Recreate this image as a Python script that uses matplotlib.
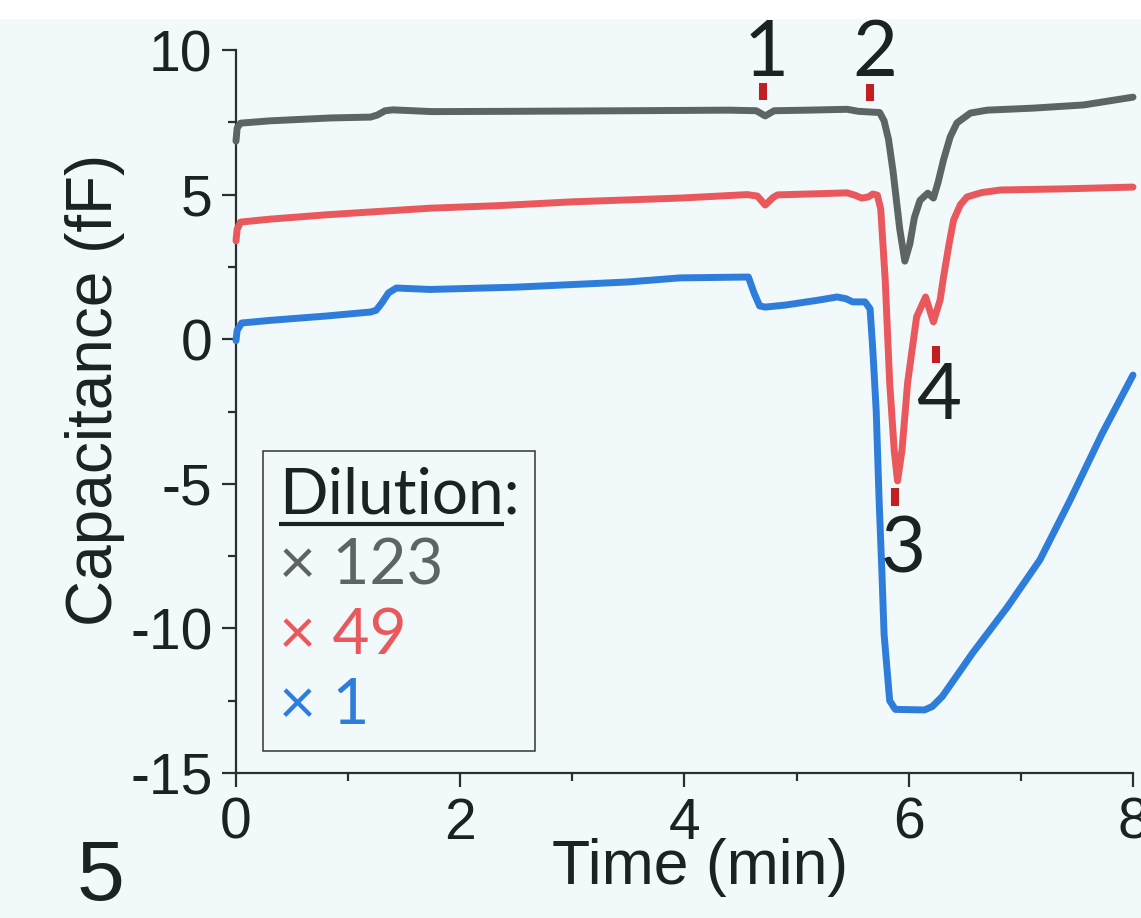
import matplotlib
matplotlib.use("Agg")
import matplotlib.pyplot as plt
from matplotlib.lines import Line2D
from matplotlib.patches import Rectangle
from matplotlib.ticker import MultipleLocator

plt.rcParams["axes.unicode_minus"] = False
plt.rcParams["font.family"] = ["Liberation Sans", "DejaVu Sans"]

BG = "#f2f9fb"
INK = "#1b2224"
GRAY = "#5e6364"
RED = "#e8585c"
BLUE = "#2f7ddb"
MARK = "#c21f22"

# dilution x123
gray_t = [0.0, 0.01, 0.04, 0.3, 0.84, 1.2, 1.26, 1.33, 1.4, 1.75, 2.5, 3.5,
          4.4, 4.64, 4.72, 4.8, 5.1, 5.45, 5.55, 5.68, 5.74, 5.78, 5.82, 5.86,
          5.92, 5.965, 6.01, 6.05, 6.1, 6.17, 6.22, 6.26, 6.31, 6.37, 6.43,
          6.55, 6.7, 7.11, 7.56, 8.0]
gray_c = [6.85, 7.3, 7.47, 7.55, 7.65, 7.68, 7.75, 7.9, 7.93, 7.87, 7.88, 7.9,
          7.92, 7.9, 7.72, 7.9, 7.92, 7.95, 7.88, 7.85, 7.84, 7.55, 6.9, 5.8,
          3.8, 2.7, 3.3, 4.2, 4.8, 5.05, 4.88, 5.4, 6.2, 7.0, 7.48,
          7.82, 7.92, 7.99, 8.1, 8.37]

# dilution x49
red_t = [0.0, 0.01, 0.04, 0.3, 0.8, 1.73, 2.35, 3.0, 3.96, 4.56, 4.65, 4.72,
         4.79, 4.83, 5.1, 5.45, 5.52, 5.58, 5.64, 5.68, 5.72, 5.75, 5.79, 5.83,
         5.87, 5.90, 5.94, 5.99, 6.07, 6.15, 6.22, 6.28, 6.31, 6.36, 6.40,
         6.46, 6.52, 6.65, 6.82, 7.4, 8.0]
red_c = [3.4, 3.8, 4.05, 4.15, 4.3, 4.53, 4.62, 4.75, 4.88, 5.0, 4.95, 4.64,
         4.9, 4.99, 5.02, 5.06, 4.98, 4.88, 4.92, 5.02, 4.98, 4.5, 2.05, -1.5,
         -3.83, -4.9, -3.83, -1.5, 0.77, 1.46, 0.6, 1.36, 2.15, 3.3, 4.12,
         4.65, 4.92, 5.07, 5.16, 5.2, 5.26]

# dilution x1
blue_t = [0.0, 0.01, 0.05, 0.3, 0.8, 1.2, 1.25, 1.3, 1.36, 1.43, 1.73, 2.5,
          3.5, 3.96, 4.57, 4.62, 4.67, 4.72, 4.9, 5.21, 5.36, 5.44, 5.5, 5.61,
          5.655, 5.68, 5.71, 5.735, 5.76, 5.78, 5.83, 5.88, 6.14, 6.21, 6.3,
          6.57, 6.88, 7.17, 7.44, 7.72, 8.0]
blue_c = [-0.05, 0.3, 0.56, 0.65, 0.8, 0.94, 1.0, 1.25, 1.6, 1.77, 1.72, 1.8,
          1.98, 2.12, 2.15, 1.6, 1.15, 1.11, 1.18, 1.36, 1.46, 1.4, 1.29, 1.29,
          1.05, -0.4, -2.5, -5.5, -8.0, -10.2, -12.5, -12.8, -12.82, -12.7,
          -12.35, -10.85, -9.26, -7.63, -5.56, -3.3, -1.24]

series = [
    ("\u00d7 123", GRAY, gray_t, gray_c),
    ("\u00d7 49", RED, red_t, red_c),
    ("\u00d7 1", BLUE, blue_t, blue_c),
]

# numbered events: tick position and label position
event_labels = ["1", "2", "3", "4"]
event_t = [4.70, 5.65, 5.88, 6.245]
event_lo = [8.27, 8.24, -5.77, -0.81]
event_hi = [8.86, 8.82, -5.15, -0.22]
label_t = [4.73, 5.70, 5.95, 6.27]
label_c = [9.10, 9.10, -8.05, -2.75]

fig = plt.figure(figsize=(11.41, 9.18), dpi=100, facecolor=BG)
ax = fig.add_axes([236 / 1141, 1 - 773 / 918, 897 / 1141, 723 / 918])
ax.set_facecolor(BG)

for name, color, t, c in series:
    ax.plot(t, c, color=color, lw=5, solid_joinstyle="round",
            solid_capstyle="round", label=name, clip_on=False, zorder=3)

ax.vlines(event_t, event_lo, event_hi, color=MARK, lw=5.8, capstyle="butt",
          zorder=4)
for s, x, y in zip(event_labels, label_t, label_c):
    ax.text(x, y, s, ha="center", va="baseline", fontsize=56, color=INK,
            family="Lato")

ax.set_xlim(0, 8)
ax.set_ylim(-15, 10)
ax.xaxis.set_major_locator(MultipleLocator(2))
ax.xaxis.set_minor_locator(MultipleLocator(1))
ax.yaxis.set_major_locator(MultipleLocator(5))
ax.yaxis.set_minor_locator(MultipleLocator(2.5))

for side in ["top", "right"]:
    ax.spines[side].set_visible(False)
for side in ["left", "bottom"]:
    ax.spines[side].set_linewidth(1.6)
    ax.spines[side].set_color("#2a2f31")

ax.tick_params(which="major", direction="out", length=10, width=1.6,
               color="#2a2f31", labelsize=41, labelcolor=INK, pad=7)
ax.tick_params(which="minor", direction="out", length=6, width=1.6,
               color="#2a2f31")

ax.set_xlabel("Time (min)", fontsize=45, color=INK)
ax.xaxis.set_label_coords(0.517, -0.09)
ax.set_ylabel("Capacitance (fF)", fontsize=46, color=INK)
ax.yaxis.set_label_coords(-0.124, 0.53)

handles = [Line2D([], [], linestyle="none") for _ in series]
leg = ax.legend(handles, [s[0] for s in series], loc="lower left",
                bbox_to_anchor=(0.03, 0.03), borderaxespad=0,
                title="Dilution:", alignment="left",
                prop={"family": "Lato", "size": 46},
                title_fontproperties={"family": "Lato", "size": 46},
                labelcolor=[s[1] for s in series],
                handlelength=0, handletextpad=0, borderpad=0.25,
                labelspacing=0.19, fancybox=False, framealpha=1,
                facecolor=BG, edgecolor="#333333")
leg.get_title().set_color(INK)
leg.get_frame().set_linewidth(1.1)

# underline "Dilution" (not the colon)
fig.canvas.draw()
renderer = fig.canvas.get_renderer()
title = leg.get_title()
bb = title.get_window_extent(renderer)
w, _, _ = renderer.get_text_width_height_descent(
    "Dilution", title.get_fontproperties(), ismath=False)
_, _, d = renderer.get_text_width_height_descent(
    "lp", title.get_fontproperties(), ismath=False)
y_ul = bb.y0 + d - 10
inv = fig.transFigure.inverted()
(x0, y0), (x1, _) = inv.transform([(bb.x0, y_ul), (bb.x0 + w, y_ul)])
fig.add_artist(Line2D([x0, x1], [y0, y0], color=INK, lw=3,
                      solid_capstyle="butt", zorder=6))

# panel number
fig.text(100 / 1141, 1 - 900 / 918, "5", ha="center", va="baseline",
         fontsize=62, color=INK)

# white strip along the top edge
fig.add_artist(Rectangle((0, 1 - 18 / 918), 1, 18 / 918,
                         transform=fig.transFigure, color="white", zorder=10))

fig.savefig("out.png", dpi=100, facecolor=BG)
